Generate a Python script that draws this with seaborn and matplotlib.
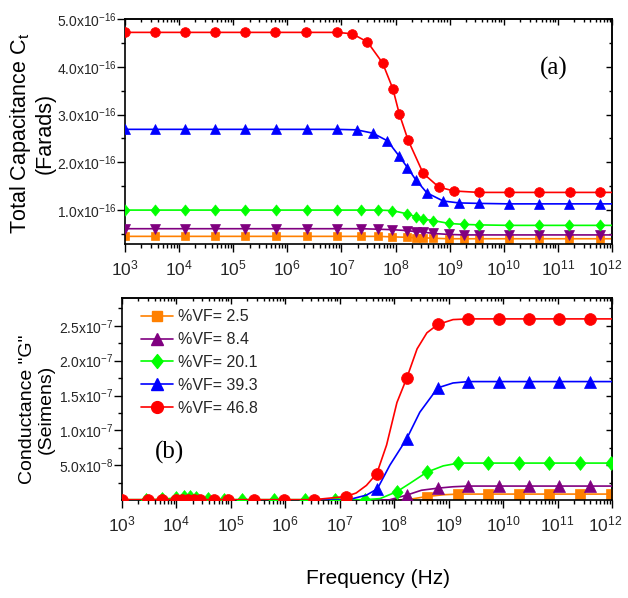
import numpy as np
import matplotlib
matplotlib.use("Agg")
import matplotlib.pyplot as plt
import seaborn as sns
from matplotlib.lines import Line2D
from matplotlib import ticker, font_manager
from matplotlib.path import Path
from matplotlib.transforms import ScaledTranslation

# ---------------- data (frequency as log10(Hz)) ----------------
# Panel (a): total capacitance, units of 1e-16 F
red_a_logf = [3.0, 3.56, 4.11, 4.67, 5.22, 5.78, 6.35, 6.92, 7.20, 7.48, 7.76, 7.95, 8.07,
              8.23, 8.51, 8.80, 9.08, 9.54, 10.10, 10.66, 11.22, 11.78, 12.0]
red_a = [4.72, 4.72, 4.72, 4.72, 4.72, 4.72, 4.72, 4.72, 4.69, 4.52, 4.08, 3.54, 3.01,
         2.47, 1.77, 1.48, 1.40, 1.37, 1.37, 1.37, 1.37, 1.37, 1.37]
blue_a_logf = [3.0, 3.55, 4.11, 4.66, 5.22, 5.79, 6.36, 6.91, 7.28, 7.58, 7.85, 8.06, 8.22,
               8.37, 8.58, 8.88, 9.17, 9.54, 10.10, 10.65, 11.21, 11.78, 12.0]
blue_a = [2.69, 2.69, 2.69, 2.69, 2.69, 2.69, 2.69, 2.69, 2.68, 2.61, 2.45, 2.14, 1.89,
          1.64, 1.36, 1.19, 1.15, 1.14, 1.13, 1.13, 1.13, 1.13, 1.13]
low_a_logf = [3.0, 3.55, 4.11, 4.66, 5.22, 5.79, 6.36, 6.92, 7.37, 7.67, 7.94, 8.22, 8.37,
              8.51, 8.70, 8.99, 9.27, 9.54, 10.10, 10.65, 11.21, 11.78, 12.0]
green_a = [1.00, 1.00, 1.00, 1.00, 1.00, 1.00, 1.00, 1.00, 1.00, 1.00, 0.99, 0.92, 0.86,
           0.81, 0.78, 0.72, 0.70, 0.69, 0.68, 0.68, 0.68, 0.68, 0.68]
purple_a = [0.61, 0.61, 0.61, 0.61, 0.61, 0.61, 0.61, 0.61, 0.61, 0.60, 0.59, 0.57, 0.55,
            0.54, 0.51, 0.49, 0.48, 0.48, 0.48, 0.48, 0.48, 0.48, 0.48]
orange_a = [0.45, 0.45, 0.45, 0.45, 0.45, 0.45, 0.45, 0.45, 0.45, 0.45, 0.44, 0.43, 0.42,
            0.42, 0.41, 0.40, 0.40, 0.40, 0.40, 0.40, 0.40, 0.40, 0.40]

# Panel (b): conductance, units of 1e-7 S
red_b_logf = [3.0, 3.48, 3.73, 3.99, 4.10, 4.21, 4.32, 4.43, 4.69, 4.95, 5.42, 5.97, 6.53,
              7.11, 7.30, 7.49, 7.68, 7.86, 8.05, 8.23, 8.42, 8.60, 8.80, 9.08, 9.36,
              9.93, 10.48, 11.03, 11.60, 12.0]
red_b = [0.005, 0.005, 0.005, 0.005, 0.005, 0.005, 0.005, 0.005, 0.005, 0.005, 0.005, 0.005, 0.005,
         0.05, 0.10, 0.21, 0.38, 0.79, 1.40, 1.75, 2.17, 2.40, 2.52, 2.59, 2.60,
         2.60, 2.60, 2.60, 2.60, 2.60]
red_b_mk = [0, 1, 2, 3, 4, 5, 6, 7, 8, 9, 10, 11, 12, 13, 16, 19, 22, 24, 25, 26, 27, 28]
blue_b_logf = [3.0, 7.0, 7.19, 7.49, 7.69, 7.92, 8.23, 8.47, 8.80, 9.08, 9.36, 9.93, 10.48,
               11.03, 11.60, 12.0]
blue_b = [0.0, 0.0, 0.01, 0.07, 0.16, 0.50, 0.88, 1.26, 1.61, 1.68, 1.70, 1.70, 1.70,
          1.70, 1.70, 1.70]
blue_b_mk = [4, 6, 8, 10, 11, 12, 13, 14]
green_b_logf = [3.0, 3.44, 3.73, 3.99, 4.14, 4.25, 4.36, 4.58, 4.87, 5.20, 5.79, 6.36, 6.91,
                7.46, 7.74, 8.05, 8.29, 8.60, 8.90, 9.18, 9.73, 10.29, 10.85, 11.41, 11.98, 12.0]
green_b = [0.005, 0.005, 0.01, 0.03, 0.04, 0.04, 0.03, 0.01, 0.005, 0.005, 0.005, 0.005, 0.005,
           0.005, 0.02, 0.12, 0.24, 0.40, 0.49, 0.53, 0.53, 0.53, 0.53, 0.53, 0.53, 0.53]
green_b_mk = [1, 2, 3, 4, 5, 6, 7, 8, 9, 10, 11, 12, 13, 15, 17, 19, 20, 21, 22, 23, 24]
purple_b_logf = [3.0, 7.9, 8.23, 8.50, 8.80, 9.08, 9.36, 9.93, 10.48, 11.03, 11.60, 12.0]
purple_b = [0.0, 0.0, 0.07, 0.14, 0.17, 0.19, 0.20, 0.20, 0.20, 0.20, 0.20, 0.20]
purple_b_mk = [2, 4, 6, 7, 8, 9, 10]
orange_b_logf = [3.0, 8.2, 8.60, 8.90, 9.18, 9.73, 10.29, 10.85, 11.41, 11.98, 12.0]
orange_b = [0.0, 0.0, 0.05, 0.075, 0.085, 0.085, 0.085, 0.085, 0.085, 0.085, 0.085]
orange_b_mk = [2, 4, 5, 6, 7, 8, 9]

legend_labels = ["%VF= 2.5", "%VF= 8.4", "%VF= 20.1", "%VF= 39.3", "%VF= 46.8"]
x_exponents = [3, 4, 5, 6, 7, 8, 9, 10, 11, 12]
ya_ticks = [1.0, 2.0, 3.0, 4.0, 5.0]
ya_minor = [0.5, 1.5, 2.5, 3.5, 4.5]
ya_labels = ["1.0x10$^{-16}$", "2.0x10$^{-16}$", "3.0x10$^{-16}$", "4.0x10$^{-16}$", "5.0x10$^{-16}$"]
yb_ticks = [0.5, 1.0, 1.5, 2.0, 2.5]
yb_minor = [0.25, 0.75, 1.25, 1.75, 2.25, 2.75]
yb_labels = ["5.0x10$^{-8}$", "1.0x10$^{-7}$", "1.5x10$^{-7}$", "2.0x10$^{-7}$", "2.5x10$^{-7}$"]

# ---------------- style ----------------
sns.set_theme(style="ticks")
avail = {f.name for f in font_manager.fontManager.ttflist}
NARROW = "Liberation Sans Narrow" if "Liberation Sans Narrow" in avail else "Liberation Sans"
plt.rcParams["font.family"] = ["Liberation Sans", "DejaVu Sans"]
plt.rcParams["mathtext.default"] = "regular"

C_OR, C_PU, C_GR, C_BL, C_RD = "#ff8000", "#800080", "#00ff00", "#0000ff", "#ff0000"
DIAMOND = Path([(0, 1), (0.8, 0), (0, -1), (-0.8, 0), (0, 1)],
               [Path.MOVETO, Path.LINETO, Path.LINETO, Path.LINETO, Path.CLOSEPOLY])

W, H = 628, 598
fig = plt.figure(figsize=(W / 100, H / 100), dpi=100)
fig.patch.set_facecolor("white")


def add_ax(l, t, r, b):
    return fig.add_axes([l / W, 1 - b / H, (r - l) / W, (b - t) / H])


ax1 = add_ax(125, 19, 612, 244)
ax2 = add_ax(122, 298, 612, 500)


def draw(ax, logf, vals, unit, color, marker, ms, mk, z):
    sns.lineplot(x=np.power(10.0, np.asarray(logf)), y=np.asarray(vals) * unit, ax=ax,
                 color=color, marker=marker, markersize=ms, markevery=mk,
                 markeredgecolor=color, markerfacecolor=color, markeredgewidth=0.5,
                 linewidth=1.2, sort=False, estimator=None, errorbar=None,
                 legend=False, zorder=z)


for ax in (ax1, ax2):
    ax.set_xscale("log")

mk_a = list(range(22))
draw(ax1, low_a_logf, orange_a, 1e-16, C_OR, "s", 5.5, mk_a, 2)
draw(ax1, low_a_logf, purple_a, 1e-16, C_PU, "v", 6.5, mk_a, 3)
draw(ax1, low_a_logf, green_a, 1e-16, C_GR, DIAMOND, 8, mk_a, 4)
draw(ax1, blue_a_logf, blue_a, 1e-16, C_BL, "^", 7, mk_a, 5)
draw(ax1, red_a_logf, red_a, 1e-16, C_RD, "o", 7, mk_a, 6)

draw(ax2, orange_b_logf, orange_b, 1e-7, C_OR, "s", 6.5, orange_b_mk, 2)
draw(ax2, purple_b_logf, purple_b, 1e-7, C_PU, "^", 8, purple_b_mk, 3)
draw(ax2, green_b_logf, green_b, 1e-7, C_GR, DIAMOND, 10, green_b_mk, 4)
draw(ax2, blue_b_logf, blue_b, 1e-7, C_BL, "^", 8.5, blue_b_mk, 5)
draw(ax2, red_b_logf, red_b, 1e-7, C_RD, "o", 8.5, red_b_mk, 6)

xt = [10.0 ** e for e in x_exponents]
xl = ["10$^{%d}$" % e for e in x_exponents]

for ax in (ax1, ax2):
    ax.set_facecolor("white")
    ax.set_xlim(1e3, 1e12)
    ax.set_xticks(xt, labels=xl, fontfamily=NARROW, fontsize=12.5)
    ax.xaxis.set_minor_locator(ticker.LogLocator(base=10, subs=np.arange(2, 10), numticks=200))
    ax.xaxis.set_minor_formatter(ticker.NullFormatter())
    for s in ax.spines.values():
        s.set_visible(True)
        s.set_linewidth(1.2)
        s.set_color("black")
    ax.tick_params(which="both", direction="out", color="black", width=1.0,
                   top=False, right=False)
    ax.tick_params(which="major", length=5.5)
    ax.tick_params(which="minor", length=3)
    ax.tick_params(axis="x", which="major", pad=5)
    ax.tick_params(axis="y", which="major", pad=0.5)
    ax.set_xlabel("")
    ax.set_ylabel("")

ax1.set_ylim(0.29e-16, 5.0e-16)
ax1.set_yticks([v * 1e-16 for v in ya_ticks], labels=ya_labels, fontfamily=NARROW, fontsize=10)
ax1.set_yticks([v * 1e-16 for v in ya_minor], minor=True)

ax2.set_ylim(0.0, 2.9e-7)
ax2.set_yticks([v * 1e-7 for v in yb_ticks], labels=yb_labels, fontfamily=NARROW, fontsize=10)
ax2.set_yticks([v * 1e-7 for v in yb_minor], minor=True)

# inward ticks on top / right spines
for ax, yt, ytm in ((ax1, [v * 1e-16 for v in ya_ticks], [v * 1e-16 for v in ya_minor]),
                    (ax2, [v * 1e-7 for v in yb_ticks], [v * 1e-7 for v in yb_minor])):
    sx = ax.secondary_xaxis("top")
    sx.set_xticks(xt, labels=[""] * len(xt))
    sx.xaxis.set_minor_locator(ticker.LogLocator(base=10, subs=np.arange(2, 10), numticks=200))
    sx.xaxis.set_minor_formatter(ticker.NullFormatter())
    sx.tick_params(which="both", direction="in", color="black", width=1.0)
    sx.tick_params(which="major", length=4)
    sx.tick_params(which="minor", length=2)
    sx.spines["top"].set_linewidth(1.2)
    sy = ax.secondary_yaxis("right")
    sy.set_yticks(yt, labels=[""] * len(yt))
    sy.set_yticks(ytm, minor=True)
    sy.tick_params(which="both", direction="in", color="black", width=1.0)
    sy.tick_params(which="major", length=4)
    sy.tick_params(which="minor", length=2)
    sy.spines["right"].set_linewidth(1.2)

# nudge the last x tick label (10^12) left so it stays inside the canvas
for ax in (ax1, ax2):
    last = ax.xaxis.get_majorticklabels()[-1]
    last.set_transform(last.get_transform() + ScaledTranslation(-5 / 72, 0, fig.dpi_scale_trans))

ax1.set_ylabel("Total Capacitance C$_t$\n(Farads)", fontsize=15.5, linespacing=1.1,
               color="black")
ax1.yaxis.set_label_coords(-0.142, 0.49)
ax2.set_ylabel("Conductance \"G\"\n(Seimens)", fontsize=14, linespacing=1.15,
               color="black")
ax2.yaxis.set_label_coords(-0.137, 0.45)

fig.text(378 / W, 1 - 578 / H, "Frequency (Hz)", ha="center", va="center",
         fontfamily=NARROW, fontsize=15, color="black")
fig.text(554 / W, 1 - 68 / H, "(a)", ha="center", va="center",
         fontfamily="Liberation Serif", fontsize=18, color="black")
fig.text(170 / W, 1 - 452 / H, "(b)", ha="center", va="center",
         fontfamily="Liberation Serif", fontsize=18, color="black")

handles = [
    Line2D([], [], color=C_OR, marker="s", markersize=6.5, markeredgecolor=C_OR, linewidth=1.2),
    Line2D([], [], color=C_PU, marker="^", markersize=8, markeredgecolor=C_PU, linewidth=1.2),
    Line2D([], [], color=C_GR, marker=DIAMOND, markersize=10, markeredgecolor=C_GR, linewidth=1.2),
    Line2D([], [], color=C_BL, marker="^", markersize=8.5, markeredgecolor=C_BL, linewidth=1.2),
    Line2D([], [], color=C_RD, marker="o", markersize=8.5, markeredgecolor=C_RD, linewidth=1.2),
]
leg = ax2.legend(handles, legend_labels, loc="upper left", bbox_to_anchor=(0.039, 0.945),
                 borderaxespad=0, borderpad=0, frameon=False, handlelength=2.0,
                 handletextpad=0.3, labelspacing=0.5,
                 prop={"family": NARROW, "size": 11.5})

fig.savefig("out.png", dpi=100, facecolor="white")
